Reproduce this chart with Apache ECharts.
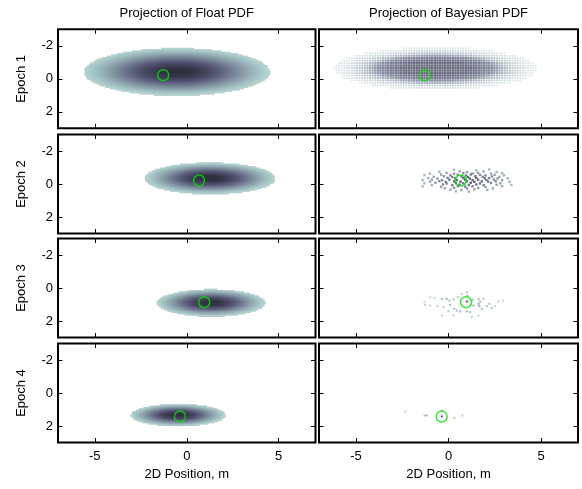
<!DOCTYPE html>
<html><head><meta charset="utf-8">
<script src="https://cdn.jsdelivr.net/npm/echarts@6/dist/echarts.min.js"></script>
<style>html,body{margin:0;padding:0;background:#fff}#c{width:582px;height:489px}</style>
</head><body><div id="c"></div>
<script>
// ---------- data ----------
const epochNames = ['Epoch 1', 'Epoch 2', 'Epoch 3', 'Epoch 4'];
const columnTitles = ['Projection of Float PDF', 'Projection of Bayesian PDF'];
const xTicks = [-5, 0, 5];
const yTicks = [-2, 0, 2];
const xAxisName = '2D Position, m';

// Float PDF: Gaussian parameters per epoch (m)
const floatMeanX  = [-0.55, 1.25, 1.31, -0.48];
const floatMeanY  = [-0.43, -0.35, 0.89, 1.33];
const floatSigmaX = [3.03, 2.13, 1.76, 1.54];
const floatSigmaY = [0.86, 0.57, 0.49, 0.40];

// true position (green circle) per epoch
const truthX = [-1.28, 0.67, 0.95, -0.37];
const truthY = [-0.22, -0.21, 0.86, 1.43];

// Bayesian PDF epoch 1: dense lattice cloud parameters
const bayes1MeanX = -0.7, bayes1MeanY = -0.62, bayes1SigmaX = 2.45, bayes1SigmaY = 0.58;

// Bayesian PDF epochs 2-4: individual samples [x, y, weight]
const bayesPoints2 = [
[0.3,-0.86],[1.5,-0.83],[2.2,-0.88],
[-0.5,-0.74],[0.6,-0.77],[1.0,-0.72],[1.9,-0.76],[2.6,-0.73],
[-1.0,-0.63],[-0.1,-0.67],[0.3,-0.62],[0.8,-0.66],[1.3,-0.64],[1.6,-0.68],[2.3,-0.63],[2.9,-0.66],
[-1.3,-0.54],[-0.4,-0.57],[0.1,-0.53],[0.5,-0.56],[0.95,-0.52],[1.2,-0.57],[1.7,-0.55],[2.0,-0.52],[2.5,-0.56],[3.0,-0.53],
[-0.8,-0.44],[-0.25,-0.47],[0.2,-0.43],[0.7,-0.46],[1.05,-0.42],[1.45,-0.47],[1.85,-0.44],[2.35,-0.46],[2.75,-0.43],
[-1.1,-0.36],[-0.6,-0.33],[-0.05,-0.37],[0.35,-0.34],[0.8,-0.36],[1.15,-0.33],[1.5,-0.37],[1.95,-0.34],[2.2,-0.36],[2.65,-0.33],[3.2,-0.35],
[-1.4,-0.24],[-0.9,-0.27],[-0.35,-0.23],[0.05,-0.26],[0.45,-0.24],[0.9,-0.27],[1.3,-0.23],[1.6,-0.26],[2.05,-0.24],[2.45,-0.27],[2.9,-0.23],
[-1.0,-0.14],[-0.5,-0.17],[-0.15,-0.13],[0.3,-0.16],[0.65,-0.14],[1.0,-0.17],[1.4,-0.13],[1.8,-0.16],[2.15,-0.14],[2.55,-0.17],[3.3,-0.13],
[-1.3,-0.04],[-0.7,-0.07],[-0.1,-0.03],[0.4,-0.06],[0.8,-0.04],[1.2,-0.07],[1.7,-0.03],[2.3,-0.06],[2.8,-0.04],
[-0.9,0.06],[-0.3,0.03],[0.2,0.07],[0.6,0.04],[1.1,0.06],[1.5,0.03],[1.9,0.07],[2.6,0.04],[3.4,0.06],
[-1.4,0.14],[-0.4,0.17],[0.5,0.13],[0.9,0.16],[1.3,0.14],[2.0,0.17],[2.9,0.13],
[-0.2,0.26],[0.3,0.23],[1.0,0.27],[1.6,0.24],[2.4,0.26],
[0.1,0.34],[0.7,0.37],[1.4,0.33],[2.1,0.36],
[0.4,0.44],[1.1,0.46]
];
const bayesPoints3 = [
[-1.26,1.02,0.3],[-0.99,0.56,0.3],[-0.99,1.06,0.3],[-0.36,0.66,0.4],[-0.27,1.16,0.35],
[-0.09,0.66,0.45],[0.05,0.76,0.4],[0.09,1.02,0.45],[0.27,0.70,0.4],[0.31,1.26,0.45],
[0.45,1.36,0.4],[0.63,1.42,0.45],[0.72,0.36,0.35],[0.99,0.26,0.35],[1.02,0.46,0.45],
[0.99,0.82,0.95],[0.99,1.42,0.45],[1.17,1.46,0.4],[1.35,1.06,0.5],[1.62,0.66,0.4],
[1.62,0.96,0.55],[1.71,0.82,0.45],[1.67,1.10,0.5],[1.89,0.66,0.35],[1.80,1.26,0.4],
[2.07,1.10,0.4],[2.34,1.22,0.35],[2.70,0.82,0.35],[2.93,0.76,0.3],[-0.36,1.66,0.3],
[0.27,1.66,0.3],[1.26,1.76,0.3],[1.62,1.66,0.3],[-1.30,0.84,0.25],[-0.75,0.60,0.3],
[-0.60,1.10,0.35],[0.00,1.40,0.35],[0.50,0.55,0.35],[1.30,0.70,0.4],[2.20,0.95,0.35],[2.50,1.10,0.3]
];
const bayesPoints4 = [
[-2.33,1.12,0.3],[-1.29,1.36,0.4],[-1.16,1.36,0.4],[-0.36,1.08,0.4],
[-0.36,1.42,0.9],[0.32,1.52,0.35],[0.75,1.36,0.3]
];
const bayes2MeanX = 1.0, bayes2MeanY = -0.2, bayes2SigmaX = 1.4, bayes2SigmaY = 0.42;

// ---------- helpers ----------
function bone(t, a) { // MATLAB "bone" colormap, t in [0,1]
  t = Math.max(0, Math.min(1, t));
  const hr = Math.min(1, t / 0.375);
  const hg = Math.max(0, Math.min(1, (t - 0.375) / 0.375));
  const hb = Math.max(0, (t - 0.75) / 0.25);
  const r = (7 * t + hb) / 8, g = (7 * t + hg) / 8, b = (7 * t + hr) / 8;
  return 'rgba(' + Math.round(r * 255) + ',' + Math.round(g * 255) + ',' + Math.round(b * 255) + ',' + (a == null ? 1 : a) + ')';
}
const STEP = 0.08;
function floatGrid(e) {
  const out = [];
  for (let x = -7 + STEP / 2; x < 7; x += STEP) {
    for (let y = -3 + STEP / 2; y < 3; y += STEP) {
      const dx = (x - floatMeanX[e]) / floatSigmaX[e];
      const dy = (y - floatMeanY[e]) / floatSigmaY[e];
      const p = Math.exp(-0.5 * (dx * dx + dy * dy));
      if (p > 0.25) out.push([x, y, p]);
    }
  }
  return out;
}
function bayesLattice() {
  const out = [];
  for (let x = -6.2; x <= 5; x += 0.14) {
    for (let y = -2.3; y <= 1.0; y += 0.15) {
      const dx = (x - bayes1MeanX) / bayes1SigmaX;
      const dy = (y - bayes1MeanY) / bayes1SigmaY;
      const p = Math.exp(-0.5 * (dx * dx + dy * dy));
      if (p > 0.08) out.push([x, y, p]);
    }
  }
  return out;
}
function withWeight2(pts) {
  return pts.map(function (q) {
    const dx = (q[0] - bayes2MeanX) / bayes2SigmaX, dy = (q[1] - bayes2MeanY) / bayes2SigmaY;
    return [q[0], q[1], 0.3 + 0.6 * Math.exp(-0.5 * (dx * dx + dy * dy))];
  });
}

// ---------- layout ----------
const colLeft = [58, 319];
const colWidth = [257.5, 259];
const rowTop = [29.3, 134.5, 238.5, 343.5];
const rowHeight = 99;
const FONT = 'Liberation Sans, Arial, sans-serif';

const grids = [], xAxes = [], yAxes = [], series = [];
for (let r = 0; r < 4; r++) {
  for (let c = 0; c < 2; c++) {
    const g = r * 2 + c;
    grids.push({ left: colLeft[c], top: rowTop[r], width: colWidth[c], height: rowHeight,
      show: true, borderColor: '#000', borderWidth: 2, backgroundColor: 'transparent' });
    const tick = { show: true, inside: true, length: 4.5, lineStyle: { color: '#000', width: 1 }, customValues: xTicks };
    const noLine = { show: false, onZero: false };
    xAxes.push({ type: 'value', gridIndex: g, min: -7, max: 7, position: 'bottom',
      axisLine: noLine, splitLine: { show: false },
      axisTick: tick,
      axisLabel: { show: r === 3, customValues: xTicks, color: '#000', fontSize: 13, fontFamily: FONT, margin: 7 },
      name: r === 3 ? xAxisName : '', nameLocation: 'middle', nameGap: 25,
      nameTextStyle: { color: '#000', fontSize: 13, fontFamily: FONT } });
    xAxes.push({ type: 'value', gridIndex: g, min: -7, max: 7, position: 'top',
      axisLine: noLine, splitLine: { show: false },
      axisTick: tick, axisLabel: { show: false } });
    const ytick = { show: true, inside: true, length: 4.5, lineStyle: { color: '#000', width: 1 }, customValues: yTicks };
    yAxes.push({ type: 'value', gridIndex: g, min: -3, max: 3, inverse: true, position: 'left',
      axisLine: noLine, splitLine: { show: false },
      axisTick: ytick,
      axisLabel: { show: c === 0, customValues: yTicks, color: '#000', fontSize: 13, fontFamily: FONT, margin: 5 },
      name: c === 0 ? epochNames[r] : '', nameLocation: 'middle', nameGap: 30,
      nameTextStyle: { color: '#000', fontSize: 13, fontFamily: FONT } });
    yAxes.push({ type: 'value', gridIndex: g, min: -3, max: 3, inverse: true, position: 'right',
      axisLine: noLine, splitLine: { show: false },
      axisTick: ytick, axisLabel: { show: false } });

    const xi = g * 2, yi = g * 2;
    if (c === 0) {
      series.push({ type: 'custom', xAxisIndex: xi, yAxisIndex: yi, silent: true, animation: false,
        data: floatGrid(r),
        renderItem: function (params, api) {
          const x = api.value(0), y = api.value(1), p = api.value(2);
          const a = api.coord([x - STEP / 2, y - STEP / 2]);
          const b = api.coord([x + STEP / 2, y + STEP / 2]);
          return { type: 'rect',
            shape: { x: Math.min(a[0], b[0]), y: Math.min(a[1], b[1]),
              width: Math.abs(b[0] - a[0]) + 0.6, height: Math.abs(b[1] - a[1]) + 0.6 },
            style: { fill: bone(1 - 0.8 * p) } };
        } });
    } else {
      let pts, size;
      if (r === 0) {
        pts = bayesLattice();
        size = function (v) { return 1.4 + 1.0 * Math.min(1, v[2] * 2.2); };
      }
      else if (r === 1) { pts = withWeight2(bayesPoints2); size = 2.4; }
      else if (r === 2) { pts = bayesPoints3; size = 2; }
      else { pts = bayesPoints4; size = 2; }
      series.push({ type: 'scatter', xAxisIndex: xi, yAxisIndex: yi, silent: true, animation: false,
        symbol: 'rect', symbolSize: size, data: pts,
        itemStyle: { color: function (p) {
          const w = p.value[2];
          if (r === 0) return bone(0.72 - 0.42 * Math.min(1, w * 1.3), Math.min(1, 0.3 + w * 1.6));
          return bone(1 - 0.82 * w, 1);
        } } });
    }
    series.push({ type: 'scatter', xAxisIndex: xi, yAxisIndex: yi, silent: true, animation: false, z: 10,
      symbol: 'circle', symbolSize: 11, data: [[truthX[r], truthY[r]]],
      itemStyle: { color: 'rgba(0,0,0,0)', borderColor: '#00e000', borderWidth: 1.5 } });
  }
}

const chart = echarts.init(document.getElementById('c'), null, { renderer: 'canvas' });
chart.setOption({
  animation: false,
  backgroundColor: '#fff',
  grid: grids, xAxis: xAxes, yAxis: yAxes, series: series,
  graphic: columnTitles.map(function (t, i) {
    return { type: 'text', silent: true,
      style: { text: t, x: colLeft[i] + colWidth[i] / 2, y: 13, textAlign: 'center', textVerticalAlign: 'middle',
        fill: '#000', font: '13px ' + FONT } };
  })
});
</script></body></html>
